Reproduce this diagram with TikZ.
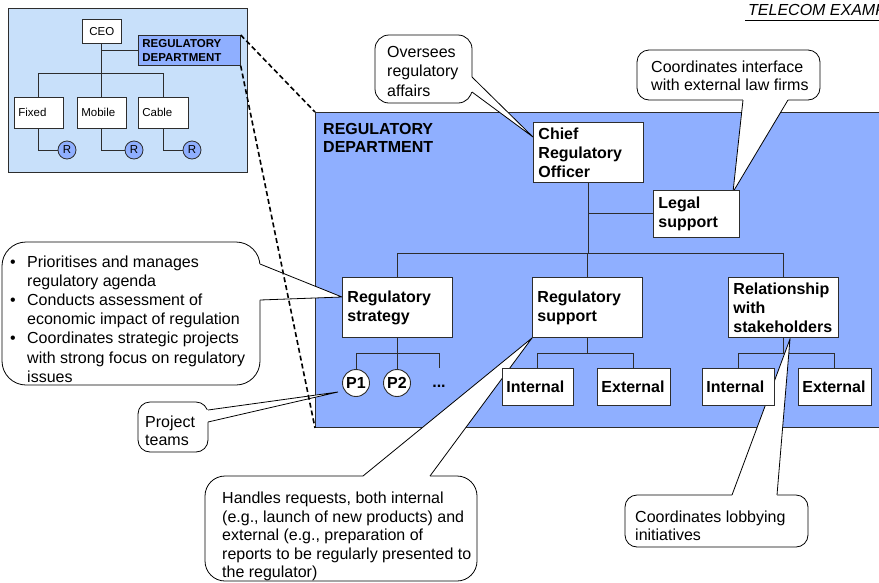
\documentclass[tikz,border=0pt]{standalone}
\usepackage{fontspec}
\setmainfont{Liberation Sans}
\pgfdeclarelayer{back}
\pgfdeclarelayer{mid}
\pgfsetlayers{back,mid,main}
\definecolor{deptblue}{RGB}{143,175,255}
\definecolor{insetblue}{RGB}{200,224,250}
\definecolor{edge}{RGB}{45,45,45}
\tikzset{
  obox/.style={draw=edge, fill=white, line width=0.9pt, anchor=north west, inner xsep=5pt, inner ysep=0pt, align=left, font=\bfseries\fontsize{16}{19}\selectfont},
  sbox/.style={draw=edge, fill=white, line width=0.7pt, anchor=north west, inner xsep=4pt, inner ysep=0pt, align=left, font=\fontsize{11.5}{14}\selectfont},
  conn/.style={draw=edge, line width=1pt},
  iconn/.style={draw=edge, line width=0.8pt},
  pcirc/.style={circle, draw=edge, fill=white, line width=0.9pt, minimum size=27pt, inner sep=0pt, font=\bfseries\fontsize{16}{19}\selectfont},
  rcirc/.style={circle, draw=edge, fill=deptblue, line width=0.8pt, minimum size=18pt, inner sep=0pt, font=\fontsize{11.5}{14}\selectfont},
  call/.style={draw=black, fill=white, line width=0.8pt},
  callline/.style={draw=black, line width=0.8pt},
  ctext/.style={anchor=west, inner sep=0pt, align=left},
  dashlink/.style={draw=black, line width=1.6pt, dash pattern=on 5pt off 3pt},
}
\begin{document}
\begin{tikzpicture}[x=1pt,y=-1pt]
\clip (0,0) rectangle (879,582);
\begin{pgfonlayer}{back}
\fill[white] (0,0) rectangle (879,582);
\end{pgfonlayer}

% ---------- title ----------
\node[anchor=base west, inner sep=0pt, font=\itshape\fontsize{16}{19}\selectfont] (telecom) at (748,15) {TELECOM EXAMPLE};
\draw[line width=0.8pt] (telecom.base west) ++(-3,5) coordinate (ul) -- (ul -| 885,0);

% ---------- inset ----------
\node[draw=edge, fill=insetblue, line width=0.8pt, anchor=north west, minimum width=239pt, minimum height=164pt, inner sep=0pt] (inset) at (8,8) {};
\node[sbox, text width=31pt, minimum height=24pt, align=center] (ceo) at (82,19) {CEO};
\node[sbox, fill=deptblue, font=\bfseries\fontsize{11.5}{14}\selectfont, text width=94pt, minimum height=30pt] (irdept) at (138,35) {REGULATORY\\DEPARTMENT};
\node[sbox, text width=41pt, minimum height=31pt] (fixed) at (14,97) {Fixed};
\node[sbox, text width=41pt, minimum height=31pt] (mobile) at (77,97) {Mobile};
\node[sbox, text width=42pt, minimum height=31pt] (cable) at (138,97) {Cable};
\node[rcirc] (r1) at (67,150) {R};
\node[rcirc] (r2) at (134,150) {R};
\node[rcirc] (r3) at (192,150) {R};
\coordinate (ibar) at (0,73);
\draw[iconn] (ceo.south) -- (ceo.south |- ibar);
\draw[iconn] (fixed.north) -- (fixed.north |- ibar) -- (cable.north |- ibar) -- (cable.north);
\draw[iconn] (mobile.north) -- (mobile.north |- ibar);
\draw[iconn] (irdept.west) -- (irdept.west -| ceo.south);
\draw[iconn] (fixed.south) |- (r1.west);
\draw[iconn] (mobile.south) |- (r2.west);
\draw[iconn] (cable.south) |- (r3.west);

% ---------- department box ----------
\begin{pgfonlayer}{back}
\node[draw=edge, fill=deptblue, line width=0.9pt, anchor=north west, minimum width=590pt, minimum height=315pt, inner sep=0pt] (dept) at (315,112) {};
\end{pgfonlayer}
\node[ctext, font=\bfseries\fontsize{16}{18}\selectfont] (depttitle) at (323,138.4) {REGULATORY\\DEPARTMENT};

% ---------- org nodes ----------
\node[obox, text width=100pt, minimum height=60pt] (chief) at (533,122) {Chief\\Regulatory\\Officer};
\node[obox, text width=76pt, minimum height=47pt] (legal) at (653,190) {Legal\\support};
\node[obox, text width=100pt, minimum height=60pt] (strat) at (342,277) {Regulatory\\strategy};
\node[obox, text width=100pt, minimum height=60pt] (supp) at (532,277) {Regulatory\\support};
\node[obox, text width=100pt, minimum height=60pt] (rel) at (728,277) {Relationship\\with\\stakeholders};
\node[obox, inner xsep=4pt, text width=63pt, minimum height=37pt] (sint) at (502,368) {Internal};
\node[obox, inner xsep=4pt, text width=65pt, minimum height=37pt] (sext) at (597,368) {External};
\node[obox, inner xsep=4pt, text width=64pt, minimum height=37pt] (rint) at (702,368) {Internal};
\node[obox, inner xsep=4pt, text width=65pt, minimum height=37pt] (rext) at (798,368) {External};
\node[pcirc] (p1) at (356,383) {P1};
\node[pcirc] (p2) at (397,383) {P2};
\node[anchor=base, inner sep=0pt, font=\bfseries\fontsize{16}{19}\selectfont] (dots) at (439,387) {...};
\coordinate (dotsTop) at (439,368);

% ---------- connectors ----------
\begin{pgfonlayer}{back}
\coordinate (mbar) at (0,253);
\coordinate (sbar) at (0,353);
\draw[conn] (chief.south) -- (chief.south |- mbar);
\draw[conn] (legal.west) -- (legal.west -| chief.south);
\draw[conn] (strat.north) -- (strat.north |- mbar) -- (rel.north |- mbar) -- (rel.north);
\draw[conn] (supp.north) -- (supp.north |- mbar);
\draw[conn] (strat.south) -- (strat.south |- sbar);
\draw[conn] (p1.north) -- (p1.north |- sbar) -- (dotsTop |- sbar) -- (dotsTop);
\draw[conn] (p2.north) -- (p2.north |- sbar);
\draw[conn] (supp.south) -- (supp.south |- sbar);
\draw[conn] (sint.north) -- (sint.north |- sbar) -- (sext.north |- sbar) -- (sext.north);
\draw[conn] (rel.south) -- (rel.south |- sbar);
\draw[conn] (rint.north) -- (rint.north |- sbar) -- (rext.north |- sbar) -- (rext.north);
\end{pgfonlayer}

% ---------- callouts ----------
\coordinate (t1) at (533,137);
\coordinate (t2) at (733,192);
\coordinate (t3) at (342,297);
\coordinate (t4) at (338,392);
\coordinate (t5) at (532,338);
\coordinate (t6) at (790,339);
\begin{pgfonlayer}{mid}
% Oversees
\draw[call, rounded corners=14pt] (375,35) rectangle (472,103);
\fill[white] (468,77) -- (472,77) -- (t1) -- (472,92) -- (468,92) -- cycle;
\draw[callline] (472,77) -- (t1) -- (472,92);
% Interface
\draw[call, rounded corners=12pt] (637,50) rectangle (820,100);
\fill[white] (743,96) -- (743,100) -- (t2) -- (788,100) -- (788,96) -- cycle;
\draw[callline] (743,100) -- (t2) -- (788,100);
% Bullets
\draw[call, rounded corners=24pt] (2,242) rectangle (260,385);
\fill[white] (256,264) -- (260,264) -- (t3) -- (260,300) -- (256,300) -- cycle;
\draw[callline] (260,264) -- (t3) -- (260,300);
% Project teams
\draw[call, rounded corners=12pt] (138,402) rectangle (208,452);
\fill[white] (204,410) -- (208,410) -- (t4) -- (208,422) -- (204,422) -- cycle;
\draw[callline] (208,410) -- (t4) -- (208,422);
% Handles
\draw[call, rounded corners=20pt] (205,476) rectangle (477,581);
\fill[white] (363,480) -- (363,476) -- (t5) -- (430,476) -- (430,480) -- cycle;
\draw[callline] (363,476) -- (t5) -- (430,476);
% Lobbying
\draw[call, rounded corners=12pt] (625,495) rectangle (808,547);
\fill[white] (732,499) -- (732,495) -- (t6) -- (777,495) -- (777,499) -- cycle;
\draw[callline] (732,495) -- (t6) -- (777,495);
\end{pgfonlayer}

\draw[dashlink] (irdept.north east) -- (dept.north west);
\draw[dashlink] (irdept.south east) -- (dept.south west);

\node[ctext, font=\fontsize{16}{19.5}\selectfont] (tover) at (387,71) {Oversees\\regulatory\\affairs};
\node[ctext, font=\fontsize{16}{18}\selectfont] (tinter) at (651,75.5) {Coordinates interface\\with external law firms};
\node[ctext, font=\fontsize{16}{19.2}\selectfont] (tbullets) at (10,319) {%
\makebox[17pt][l]{\textbullet}Prioritises and manages\\
\hspace*{17pt}regulatory agenda\\
\makebox[17pt][l]{\textbullet}Conducts assessment of\\
\hspace*{17pt}economic impact of regulation\\
\makebox[17pt][l]{\textbullet}Coordinates strategic projects\\
\hspace*{17pt}with strong focus on regulatory\\
\hspace*{17pt}issues};
\node[ctext, font=\fontsize{16}{18}\selectfont] (tproj) at (145,430.4) {Project\\teams};
\node[ctext, font=\fontsize{16}{18.5}\selectfont] (thand) at (222,536.4) {Handles requests, both internal\\(e.g., launch of new products) and\\external (e.g., preparation of\\reports to be regularly presented to\\the regulator)};
\node[ctext, font=\fontsize{16}{18}\selectfont] (tlobby) at (635,525.4) {Coordinates lobbying\\initiatives};
\end{tikzpicture}
\end{document}
